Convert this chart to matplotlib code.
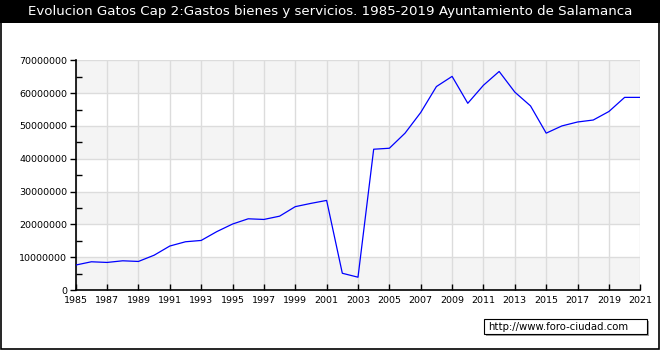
import matplotlib
matplotlib.use("Agg")
import matplotlib.pyplot as plt
from matplotlib.patches import Rectangle
from matplotlib.ticker import MultipleLocator, FuncFormatter

years = list(range(1985, 2022))
gastos = [7.6, 8.6, 8.4, 8.9, 8.7, 10.6, 13.4, 14.7, 15.1, 17.8,
          20.1, 21.7, 21.5, 22.5, 25.4, 26.4, 27.3, 5.1, 3.9, 42.9,
          43.2, 47.8, 54.1, 62.0, 65.1, 56.9, 62.4, 66.6, 60.3, 56.1,
          47.8, 50.0, 51.2, 51.8, 54.4, 58.7, 58.7]
gastos = [v * 1e6 for v in gastos]
year_ticks = list(range(1985, 2022, 2))
title = "Evolucion Gatos Cap 2:Gastos bienes y servicios. 1985-2019 Ayuntamiento de Salamanca"
source = "http://www.foro-ciudad.com"

W, H = 660, 350
fig = plt.figure(figsize=(6.6, 3.5), dpi=100)
fig.patch.set_facecolor('white')

# black header and outer frame
fig.patches.append(Rectangle((0, (H - 23) / H), 1, 23 / H, transform=fig.transFigure,
                             facecolor='black', edgecolor='none', zorder=0))
fig.patches.append(Rectangle((0.5 / W, 1.5 / H), (W - 2) / W, (H - 2) / H, transform=fig.transFigure,
                             facecolor='none', edgecolor='black', lw=1.2, zorder=5))
fig.text(0.5, (H - 12) / H, title, color='white', fontsize=9.6,
         ha='center', va='center')

ax = fig.add_axes([75.7 / W, 60 / H, 564.6 / W, 229.7 / H])
ax.set_xlim(1985, 2021)
ax.set_ylim(0, 70e6)

# alternating horizontal bands
for lo in range(0, 70, 20):
    ax.axhspan(lo * 1e6, (lo + 10) * 1e6, color='#f4f4f4', zorder=0, lw=0)

ax.set_xticks(year_ticks)
ax.yaxis.set_major_locator(MultipleLocator(10e6))
ax.yaxis.set_minor_locator(MultipleLocator(5e6))
ax.yaxis.set_major_formatter(FuncFormatter(lambda v, p: "%d" % v))
ax.grid(True, which='major', color='#dcdcdc', lw=1, zorder=1)
ax.set_axisbelow(True)

ax.plot(years, gastos, color='#0000ff', lw=0.9, zorder=3)

ax.spines['top'].set_visible(False)
ax.spines['right'].set_visible(False)
ax.spines['left'].set_linewidth(1.2)
ax.spines['bottom'].set_linewidth(1.2)
ax.tick_params(axis='x', direction='in', length=4, width=1, labelsize=6.8, pad=4)
ax.tick_params(axis='y', which='major', direction='out', length=4, width=1, labelsize=6.8, pad=2)
ax.tick_params(axis='y', which='minor', direction='in', length=4, width=1)

# source box with shadow
bx, by, bw, bh = 484 / W, (H - 334) / H, 163 / W, 15 / H
fig.patches.append(Rectangle((bx + 2 / W, by - 2 / H), bw, bh, transform=fig.transFigure,
                             facecolor='#a0a0a0', edgecolor='none', zorder=2))
fig.patches.append(Rectangle((bx, by), bw, bh, transform=fig.transFigure,
                             facecolor='white', edgecolor='black', lw=0.8, zorder=3))
fig.text(bx + 4 / W, by + bh / 2, source, fontsize=7.3, ha='left', va='center', zorder=4)

fig.savefig('out.png', dpi=100)
